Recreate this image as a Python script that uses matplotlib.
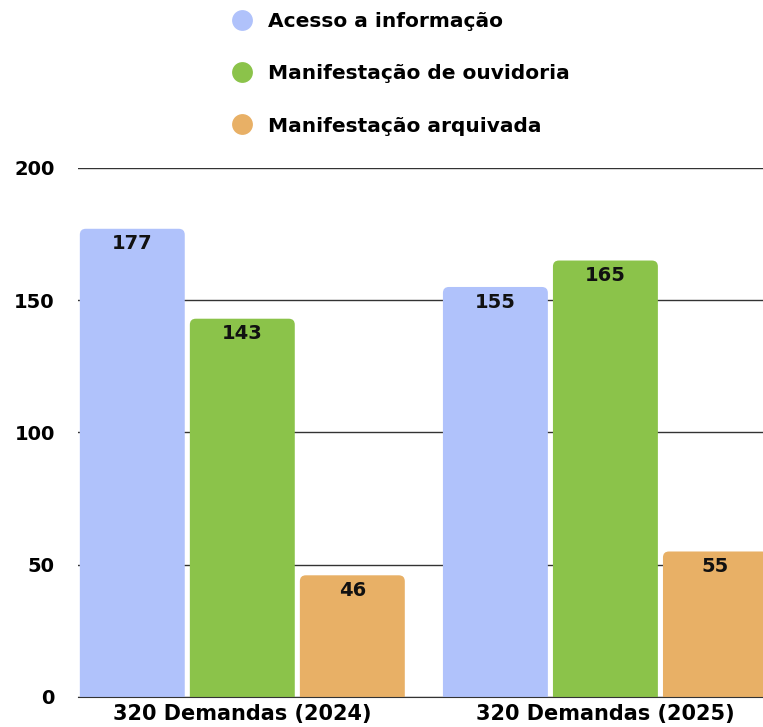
import matplotlib.pyplot as plt
from matplotlib.patches import FancyBboxPatch
from matplotlib.lines import Line2D
import numpy as np

plt.rcParams['font.family'] = ['DejaVu Sans']

grupos = ["320 Demandas (2024)", "320 Demandas (2025)"]
series = ["Acesso a informação", "Manifestação de ouvidoria", "Manifestação arquivada"]
acesso = [177, 155]
ouvidoria = [143, 165]
arquivada = [46, 55]
valores = [acesso, ouvidoria, arquivada]
cores = ["#b0c2fb", "#8bc34a", "#e8b066"]

fig = plt.figure(figsize=(7.63, 7.27), dpi=100)
ax = fig.add_axes([0.102, 0.0413, 0.898, 0.7277])

x = np.arange(len(grupos))
w = 0.289
passo = 0.303
# px per unit: x 363, y 2.645
asp = 363 / 2.645
r = 6 / 363

for i, (vals, cor) in enumerate(zip(valores, cores)):
    for xi, v in zip(x, vals):
        x0 = xi + (i - 1) * passo - w / 2
        p = FancyBboxPatch((x0, -10), w, v + 10,
                           boxstyle="round,pad=0,rounding_size=%f" % r,
                           mutation_aspect=asp, facecolor=cor,
                           edgecolor="none", zorder=3)
        ax.add_patch(p)
        ax.annotate(str(v), (xi + (i - 1) * passo, v), xytext=(0, -4),
                    textcoords="offset points", ha="center", va="top",
                    fontsize=14, fontweight="bold", color="#111111", zorder=4)

ax.set_xlim(-0.453, 1.434)
ax.set_ylim(0, 200)
ax.set_yticks([0, 50, 100, 150, 200])
ax.set_xticks(x)
ax.set_xticklabels(grupos, fontsize=15, fontweight="bold")
for lab in ax.get_yticklabels():
    lab.set_fontsize(14)
    lab.set_fontweight("bold")
ax.yaxis.grid(True, color="#333333", linewidth=1, zorder=1)
ax.set_axisbelow(True)
for s in ["left", "right", "top"]:
    ax.spines[s].set_visible(False)
ax.spines["bottom"].set_color("#333333")
ax.spines["bottom"].set_zorder(5)
ax.tick_params(axis="y", length=0, pad=16.5)
ax.tick_params(axis="x", length=0, pad=5)

handles = [Line2D([], [], marker="o", linestyle="none", markersize=15,
                  markerfacecolor=c, markeredgecolor="none") for c in cores]
leg = fig.legend(handles, series, loc="upper left",
                 bbox_to_anchor=(0.275, 1.0), frameon=False,
                 prop={"size": 14.5, "weight": "bold"},
                 labelspacing=1.65, handletextpad=0.3, borderaxespad=0.2)

fig.savefig("out.png", dpi=100)
